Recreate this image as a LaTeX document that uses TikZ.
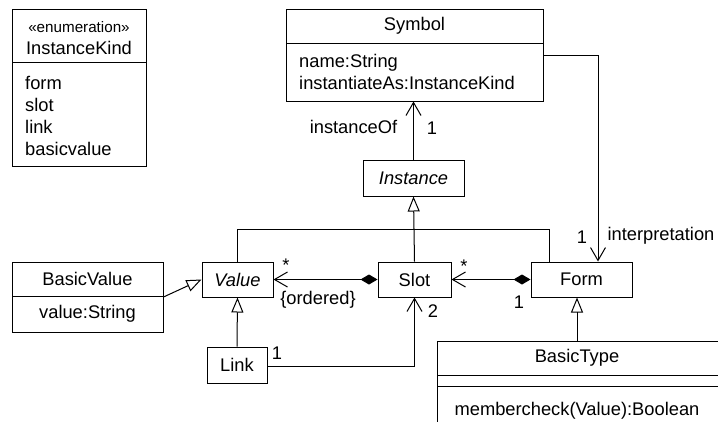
\documentclass[tikz,border=0pt]{standalone}
\usepackage{fontspec}
\setmainfont{Liberation Sans}
\usetikzlibrary{arrows.meta}
\begin{document}
\begin{tikzpicture}[x=1pt,y=-1pt,
  box/.style={draw=black,line width=1pt,inner sep=0pt,fill=none},
  lbl/.style={inner sep=0pt,font=\fontsize{18.3}{21}\selectfont},
  small/.style={inner sep=0pt,font=\fontsize{15.2}{18}\selectfont},
  conn/.style={line width=1pt,draw=black},
  gen/.style={conn,-{Triangle[open,length=15pt,width=12pt,line width=1pt]}},
  nav/.style={conn,-{Straight Barb[length=13pt,width=15pt,line width=1pt]}},
  comp/.style={conn,{Diamond[length=17pt,width=10pt,fill=black]}-{Straight Barb[length=13pt,width=15pt,line width=1pt]}}
]
\clip (0,0) rectangle (718,421);
\fill[white] (0,0) rectangle (718,421);

% InstanceKind
\node[box,minimum width=134pt,minimum height=157pt] (ik) at (79,87.5) {};
\draw[conn] (12,62) -- (146,62);
\node[small] (ikst) at (79,27) {«enumeration»};
\node[lbl] (ikt) at (79,48) {InstanceKind};
\node[lbl,anchor=west] (ik1) at (25,83) {form};
\node[lbl,anchor=west] (ik2) at (25,105) {slot};
\node[lbl,anchor=west] (ik3) at (25,127) {link};
\node[lbl,anchor=west] (ik4) at (25,149) {basicvalue};

% Symbol
\node[box,minimum width=257pt,minimum height=92pt] (symbol) at (414.5,55) {};
\draw[conn] (286,43) -- (543,43);
\node[lbl] (symt) at (414.5,26) {Symbol};
\node[lbl,anchor=west] (syma1) at (299,63) {name:String};
\node[lbl,anchor=west] (syma2) at (299,83) {instantiateAs:InstanceKind};

% Instance
\node[box,minimum width=101pt,minimum height=36pt] (instance) at (413.5,178) {};
\node[lbl,font=\fontsize{18.3}{21}\selectfont\itshape] (instt) at (413.5,178) {Instance};

% Value
\node[box,minimum width=71pt,minimum height=35pt] (value) at (237.5,279.5) {};
\node[lbl,font=\fontsize{18.3}{21}\selectfont\itshape] (valt) at (237.5,279.5) {Value};

% BasicValue
\node[box,minimum width=151pt,minimum height=70pt] (basicvalue) at (87.5,297) {};
\draw[conn] (12,296) -- (163,296);
\node[lbl] (bvt) at (87.5,279) {BasicValue};
\node[lbl] (bva) at (87.5,314) {value:String};

% Slot
\node[box,minimum width=73pt,minimum height=35pt] (slot) at (414.5,279.5) {};
\node[lbl] (slott) at (414.5,279.5) {Slot};

% Form
\node[box,minimum width=101pt,minimum height=35pt] (form) at (581.5,279.5) {};
\node[lbl] (formt) at (581.5,279.5) {Form};

% Link
\node[box,minimum width=60pt,minimum height=36pt] (link) at (237,365) {};
\node[lbl] (linkt) at (237,365) {Link};

% BasicType (cut by picture border)
\node[box,minimum width=290pt,minimum height=100pt] (basictype) at (582,391) {};
\draw[conn] (437,375) -- (727,375);
\draw[conn] (437,386) -- (727,386);
\node[lbl] (btt) at (577,358) {BasicType};
\node[lbl] (btm) at (577,411) {membercheck(Value):Boolean};

% generalizations
\coordinate (gj) at (414.5,229);
\draw[conn] (value.north) |- (gj);
\draw[conn] ([xshift=-32.5pt]form.north) |- (gj);
\draw[gen] (slot.north) -- (instance.south);
\draw[gen] (basicvalue.east) -- (value.west);
\draw[gen] (link.north) -- (value.south);
\draw[gen] ([xshift=-5pt]basictype.north) -- ([xshift=-5pt]basictype.north |- form.south);

% associations
\draw[nav] (instance.north) -- (instance.north |- symbol.south);
\draw[comp] (slot.west) -- (value.east);
\draw[comp] (form.west) -- (slot.east);
\draw[nav] ([yshift=-1pt]link.east) -| (slot.south);
\draw[nav] (symbol.east) -| ([xshift=16.5pt]form.north);

% labels
\node[lbl] (l_instof) at (353.5,127) {instanceOf};
\node[lbl] (l_one1) at (432,128) {1};
\node[lbl] (l_star1) at (286,265) {*};
\node[lbl] (l_ord) at (318,300) {\{ordered\}};
\node[lbl] (l_star2) at (464,266) {*};
\node[lbl] (l_one2) at (519,302) {1};
\node[lbl] (l_two) at (433,311) {2};
\node[lbl] (l_one3) at (277,353) {1};
\node[lbl] (l_one4) at (582,237) {1};
\node[lbl] (l_interp) at (661,236) {interpretation};
\end{tikzpicture}
\end{document}
